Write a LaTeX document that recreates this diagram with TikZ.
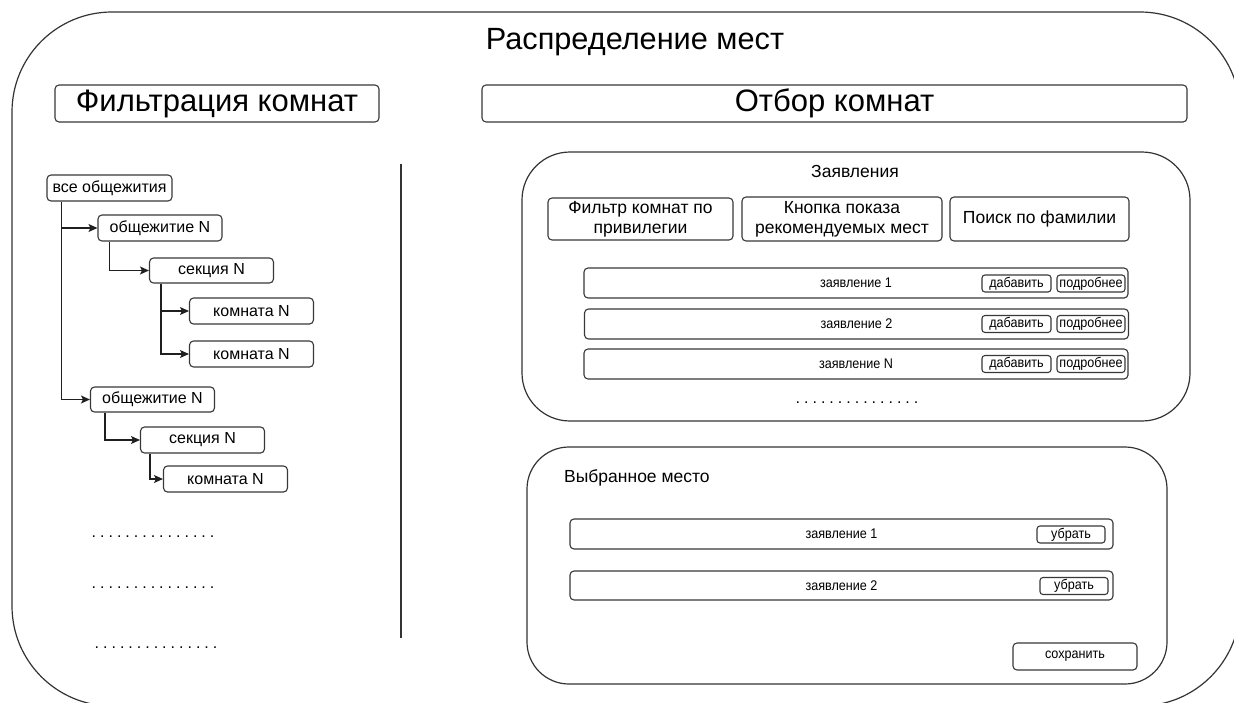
\documentclass[tikz,border=0pt]{standalone}
\usepackage{fontspec}
\setmainfont{Liberation Sans}
\newfontfamily\narrowfont{Liberation Sans}[FakeStretch=0.9]
\usetikzlibrary{arrows.meta,calc}

\tikzset{
  frame/.style={draw=black!80, line width=1.2pt},
  ui/.style={draw=black!78, line width=1.1pt, rounded corners=4pt, inner sep=0pt, align=center},
  treebox/.style={ui, minimum width=124pt, minimum height=26pt, font=\fontsize{16}{18}\selectfont},
  bigbox/.style={ui, minimum height=37pt, font=\fontsize{31}{34}\selectfont},
  filterbtn/.style={ui, minimum height=43pt, font=\fontsize{17.5}{20}\selectfont},
  rowbox/.style={ui, minimum width=544pt, minimum height=30pt, font=\narrowfont\fontsize{14}{16}\selectfont},
  smallbtn/.style={ui, rounded corners=3pt, minimum width=68pt, minimum height=17pt, font=\narrowfont\fontsize{14}{16}\selectfont},
  link/.style={draw=black!88, line width=1.3pt, -{Stealth[length=9pt,width=8pt,inset=2pt]}},
  dotrow/.style={font=\fontsize{16}{16}\selectfont, inner sep=0pt, anchor=base},
}
% a row of fifteen spaced full stops
\newcommand{\spaceddots}{\foreach \k in {1,...,14}{.\hspace{4pt}}.}

\begin{document}
\begin{tikzpicture}[x=1pt, y=-1pt]
\useasboundingbox (0,0) rectangle (1234,702);
\clip (0,0) rectangle (1234,702);

% outer frame
\draw[frame, rounded corners=100pt] (12,12) rectangle (1240,706);
\node[font=\fontsize{30.7}{33}\selectfont] (title) at (635,42) {Распределение мест};

% section headers
\node[bigbox, minimum width=324pt] (filt) at (217,103.5) {Фильтрация комнат};
\node[bigbox, minimum width=705pt] (pick) at (834.5,103.5) {Отбор комнат};

% divider
\coordinate (divtop) at (401,164);
\coordinate (divbot) at (401,638);
\draw[frame] (divtop) -- (divbot);

% room tree
\node[treebox, minimum width=125pt] (all) at (109.5,188) {все общежития};
\node[treebox] (d1) at (160,228) {общежитие N};
\node[treebox, minimum height=25pt] (s1) at (211.5,270.5) {секция N};
\node[treebox] (r1) at (251.5,311) {комната N};
\node[treebox] (r2) at (251.5,354) {комната N};
\node[treebox, minimum height=25pt] (d2) at (152.5,399.5) {общежитие N};
\node[treebox] (s2) at (202.5,440) {секция N};
\node[treebox] (r3) at (225.5,479) {комната N};

\draw[link] ($(all.south west)+(15,0)$) |- (d1.west);
\draw[link] ($(all.south west)+(15,0)$) |- (d2.west);
\draw[link] ($(d1.south west)+(12,0)$) |- (s1.west);
\draw[link] ($(s1.south west)+(12,0)$) |- (r1.west);
\draw[link] ($(s1.south west)+(12,0)$) |- (r2.west);
\draw[link] ($(d2.south west)+(15,0)$) |- (s2.west);
\draw[link] ($(s2.south west)+(10,0)$) |- (r3.west);

\node[dotrow] (more1) at (153,537) {\spaceddots};
\node[dotrow] (more2) at (153,588) {\spaceddots};
\node[dotrow] (more3) at (156,648) {\spaceddots};

% applications panel
\draw[frame, rounded corners=48pt] (522,152) rectangle (1190,421);
\node[font=\fontsize{17.5}{20}\selectfont] (apps) at (855,171) {Заявления};
\node[filterbtn, minimum width=185pt, minimum height=42pt] (f1) at (640.5,219) {Фильтр комнат по\\привилегии};
\node[filterbtn, minimum width=200pt, minimum height=44pt] (f2) at (842,219) {Кнопка показа\\рекомендуемых мест};
\node[filterbtn, minimum width=179pt, minimum height=44pt] (f3) at (1039.5,219) {Поиск по фамилии};

\node[rowbox] (a1) at (856,283) {заявление 1};
\node[smallbtn, minimum width=69pt] (a1add) at (1016.5,283.5) {дабавить};
\node[smallbtn] (a1more) at (1091,283.5) {подробнее};

\node[rowbox] (a2) at (856.5,324) {заявление 2};
\node[smallbtn, minimum width=69pt] (a2add) at (1016.5,324) {дабавить};
\node[smallbtn] (a2more) at (1091,324) {подробнее};

\node[rowbox] (a3) at (856,364) {заявление N};
\node[smallbtn, minimum width=69pt] (a3add) at (1016.5,364) {дабавить};
\node[smallbtn] (a3more) at (1091,364) {подробнее};

\node[dotrow] (more4) at (857,403) {\spaceddots};

% chosen place panel
\draw[frame, rounded corners=42pt] (527,447) rectangle (1167,684);
\node[font=\fontsize{17.5}{20}\selectfont, anchor=west, inner sep=0pt] (chosen) at (564,478) {Выбранное место};

\node[rowbox, minimum width=543pt] (c1) at (841.5,534) {заявление 1};
\node[smallbtn] (c1rm) at (1071,534.5) {убрать};
\node[rowbox, minimum width=543pt, minimum height=29pt] (c2) at (841.5,585.5) {заявление 2};
\node[smallbtn] (c2rm) at (1074,586) {убрать};

\node[ui, minimum width=124pt, minimum height=27pt, font=\narrowfont\fontsize{14}{16}\selectfont] (save) at (1075,656.5) {сохранить};
\end{tikzpicture}
\end{document}
